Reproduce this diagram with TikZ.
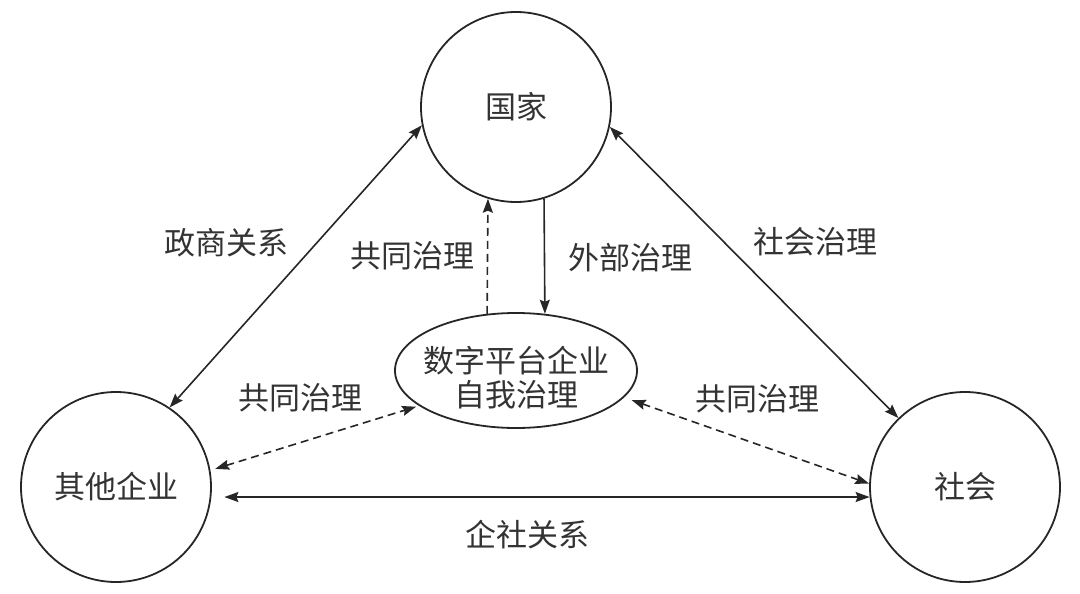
\documentclass[tikz,border=0pt]{standalone}
\usepackage{fontspec}
\setmainfont{Noto Sans CJK SC}
\usetikzlibrary{arrows.meta,shapes.geometric}
\begin{document}
\begin{tikzpicture}[x=1pt,y=-1pt,
  every node/.style={font=\fontsize{31}{36}\selectfont, text=black!80},
  party/.style={circle, draw=black!85, line width=1.8pt, minimum size=190pt, inner sep=0pt},
  platform/.style={ellipse, draw=black!85, line width=1.8pt, minimum width=242pt, minimum height=115pt, inner sep=0pt},
  lbl/.style={inner sep=0pt},
  link/.style={draw=black!85, line width=1.6pt, >={Stealth[length=14pt,width=10pt,inset=2pt]}},
  dlink/.style={link, dash pattern=on 8pt off 5pt}
]
\useasboundingbox (0,0) rectangle (1080,594);
\node[party] (state) at (516,107) {国家};
\node[party] (ent) at (116,487) {其他企业};
\node[party] (soc) at (965,487) {社会};
\node[platform] (ell) at (516,370.5) {};
\node[lbl, align=center] (elltext) at (516,378) {数字平台企业\\[-2pt]自我治理};

\draw[link,<->] (ent.56) -- (state.191);
\draw[link,<->] (state.-12) -- (soc.134);
\draw[dlink,->] (ell.117) -- (state.253);
\draw[link,->] (state.287) -- (ell.63);
\draw[dlink,<->, shorten <=5pt, shorten >=3pt] (ent.10) -- (ell.200);
\draw[dlink,<->, shorten <=8pt] (ell.-14) -- (soc.178);
\draw[link,<->, shorten <=13pt] (ent.-6) -- (soc.186);

\node[lbl] (l1) at (226,243) {政商关系};
\node[lbl] (l2) at (412,256) {共同治理};
\node[lbl] (l3) at (630,258) {外部治理};
\node[lbl] (l4) at (815,242) {社会治理};
\node[lbl] (l5) at (300,398) {共同治理};
\node[lbl] (l6) at (757,399) {共同治理};
\node[lbl] (l7) at (527,535) {企社关系};
\end{tikzpicture}
\end{document}
